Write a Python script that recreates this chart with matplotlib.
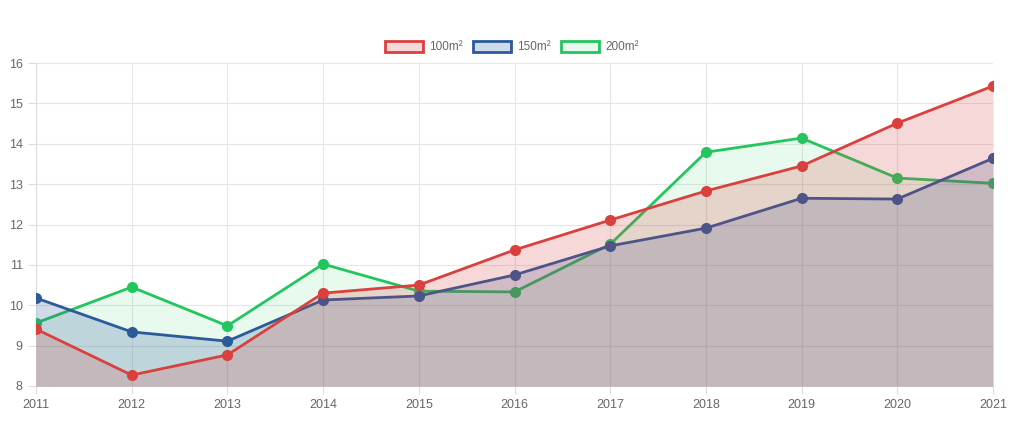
import matplotlib
matplotlib.use('Agg')
import matplotlib.pyplot as plt
from matplotlib.patches import Patch

years = [2011, 2012, 2013, 2014, 2015, 2016, 2017, 2018, 2019, 2020, 2021]
s100 = [9.41, 8.27, 8.77, 10.30, 10.50, 11.37, 12.11, 12.83, 13.45, 14.51, 15.43]
s150 = [10.18, 9.34, 9.11, 10.13, 10.23, 10.75, 11.47, 11.91, 12.65, 12.63, 13.64]
s200 = [9.56, 10.45, 9.49, 11.02, 10.35, 10.33, 11.51, 13.79, 14.14, 13.15, 13.02]
labels = ['100m²', '150m²', '200m²']

plt.rcParams['font.family'] = ['Liberation Sans', 'DejaVu Sans']

fig = plt.figure(figsize=(10.24, 4.37), dpi=100)
ax = fig.add_axes([36 / 1024, 51 / 437, 957 / 1024, 323 / 437])

# (series, line colour, fill rgba), drawn bottom to top
series = [
    (s200, '#22c55e', (34 / 255, 197 / 255, 94 / 255, 0.10)),
    (s150, '#2c5a9a', (44 / 255, 90 / 255, 154 / 255, 0.22)),
    (s100, '#d9403e', (217 / 255, 64 / 255, 62 / 255, 0.20)),
]

z = 2
for vals, col, fill in series:
    ax.fill_between(years, vals, 8, color=fill, linewidth=0, zorder=z)
    ax.plot(years, vals, color=col, lw=2, marker='o', ms=8,
            markeredgewidth=0, zorder=z + 1)
    z += 2

ax.set_xlim(2011, 2021)
ax.set_ylim(8, 16)
ax.set_xticks(years)
ax.set_yticks(range(8, 17))
ax.grid(True, color='#e6e6e6', lw=0.8, zorder=0)
for s in ['top', 'right']:
    ax.spines[s].set_visible(False)
for s in ['left', 'bottom']:
    ax.spines[s].set_color('#dcdcdc')
ax.tick_params(colors='#dcdcdc', labelcolor='#666666', labelsize=9, length=6, width=0.8)

handles = [
    Patch(facecolor=series[2][2], edgecolor=series[2][1], lw=2),
    Patch(facecolor=series[1][2], edgecolor=series[1][1], lw=2),
    Patch(facecolor=series[0][2], edgecolor=series[0][1], lw=2),
]
fig.legend(handles, labels, loc='center', bbox_to_anchor=(0.5, 1 - 47 / 437), ncol=3,
           frameon=False, fontsize=8.5, labelcolor='#666666', handlelength=3.2,
           handleheight=1.1, columnspacing=0.9, handletextpad=0.5)

fig.savefig('out.png', dpi=100, facecolor='white')
